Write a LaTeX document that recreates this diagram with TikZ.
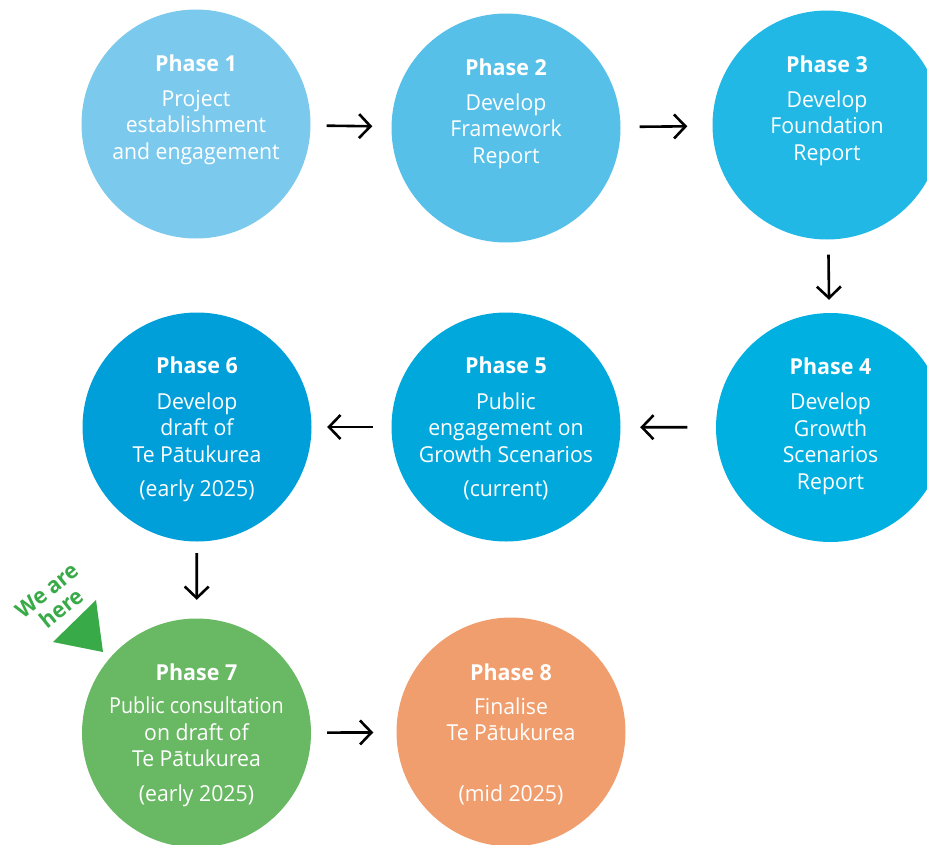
\documentclass[tikz,border=0pt]{standalone}
\usepackage{fontspec}
\setmainfont{Open Sans}
\newfontfamily\bodyfont{Open Sans}[FakeStretch=0.965]
\newfontfamily\headfont{Open Sans}[FakeStretch=0.975]
\usetikzlibrary{arrows.meta}
\definecolor{cA}{HTML}{7BCAED}
\definecolor{cB}{HTML}{56C0E8}
\definecolor{cC}{HTML}{21B8E5}
\definecolor{cD}{HTML}{00B0E0}
\definecolor{cE}{HTML}{00A8DC}
\definecolor{cF}{HTML}{009FD9}
\definecolor{cG}{HTML}{69B863}
\definecolor{cH}{HTML}{F09E6E}
\definecolor{gT}{HTML}{38AA48}
\begin{document}
\begin{tikzpicture}[x=1pt,y=-1pt,
  circ/.style={circle,minimum size=229pt,inner sep=0pt,draw=none},
  head/.style={anchor=base,text=white,inner sep=0pt,font=\headfont\fontsize{22}{26}\selectfont\bfseries},
  body/.style={anchor=base,text=white,inner sep=0pt,font=\bodyfont\fontsize{22}{26}\selectfont},
  arr/.style={line width=2.6pt,-{Straight Barb[length=11.5pt,width=24pt]}}]
\useasboundingbox (0,0) rectangle (927,844);
% circles
\node[circ,fill=cA] (p1) at (196,124) {};
\node[circ,fill=cB] (p2) at (506,128) {};
\node[circ,fill=cC] (p3) at (827,125) {};
\node[circ,fill=cD] (p4) at (830.5,427.5) {};
\node[circ,fill=cE] (p5) at (506,427) {};
\node[circ,fill=cF] (p6) at (197,427) {};
\node[circ,fill=cG] (p7) at (196.5,733) {};
\node[circ,fill=cH] (p8) at (511,732) {};
% phase 1
\node[head] (h1) at (196,71) {Phase 1};
\node[body] (t1a) at (196,106) {Project};
\node[body] (t1b) at (196,132.5) {establishment};
\node[body] (t1c) at (196,159) {and engagement};
% phase 2
\node[head] (h2) at (506,75) {Phase 2};
\node[body] (t2a) at (506,110) {Develop};
\node[body] (t2b) at (506,136.5) {Framework};
\node[body] (t2c) at (506,163) {Report};
% phase 3
\node[head] (h3) at (827,72) {Phase 3};
\node[body] (t3a) at (827,107) {Develop};
\node[body] (t3b) at (827,133.5) {Foundation};
\node[body] (t3c) at (827,160) {Report};
% phase 4
\node[head] (h4) at (830.5,374) {Phase 4};
\node[body] (t4a) at (830.5,409.5) {Develop};
\node[body] (t4b) at (830.5,436) {Growth};
\node[body] (t4c) at (830.5,462.5) {Scenarios};
\node[body] (t4d) at (830.5,489) {Report};
% phase 5
\node[head] (h5) at (506,373.5) {Phase 5};
\node[body] (t5a) at (506,409) {Public};
\node[body] (t5b) at (506,435.5) {engagement on};
\node[body] (t5c) at (506,462) {Growth Scenarios};
\node[body] (t5d) at (506,496.5) {(current)};
% phase 6
\node[head] (h6) at (197,373.5) {Phase 6};
\node[body] (t6a) at (197,409) {Develop};
\node[body] (t6b) at (197,435.5) {draft of};
\node[body] (t6c) at (197,462) {Te Pātukurea};
\node[body] (t6d) at (197,496.5) {(early 2025)};
% phase 7
\node[head] (h7) at (196.5,680) {Phase 7};
\node[body] (t7a) at (196.5,713.5) {\scalebox{0.93}[1]{Public consultation}};
\node[body] (t7b) at (196.5,740) {on draft of};
\node[body] (t7c) at (196.5,766.5) {Te Pātukurea};
\node[body] (t7d) at (196.5,801.5) {(early 2025)};
% phase 8
\node[head] (h8) at (511,680) {Phase 8};
\node[body] (t8a) at (511,714) {Finalise};
\node[body] (t8b) at (511,740) {Te Pātukurea};
\node[body] (t8d) at (511,801.5) {(mid 2025)};
% arrows
\draw[arr,shorten <=16pt,shorten >=19pt] (p1) -- (p2);
\draw[arr,shorten <=19pt,shorten >=25pt] (p2) -- (p3);
\draw[arr,shorten <=15pt,shorten >=13pt] (p3) -- (p4);
\draw[arr,shorten <=28.5pt,shorten >=19.5pt] (p4) -- (p5);
\draw[arr,shorten <=18.5pt,shorten >=15.5pt] (p5) -- (p6);
\draw[arr,shorten <=11.5pt,shorten >=18.5pt] (p6) -- (p7);
\draw[arr,shorten <=16pt,shorten >=23pt] (p7) -- (p8);
% we are here
\fill[gT] (96,600) -- (53,642) -- (103,652) -- cycle;
\node[rotate=39,text=gT,inner sep=0pt,align=center,font=\headfont\fontsize{22}{23}\selectfont\bfseries] (here) at (54.5,599.5) {We are\\here};
\end{tikzpicture}
\end{document}
